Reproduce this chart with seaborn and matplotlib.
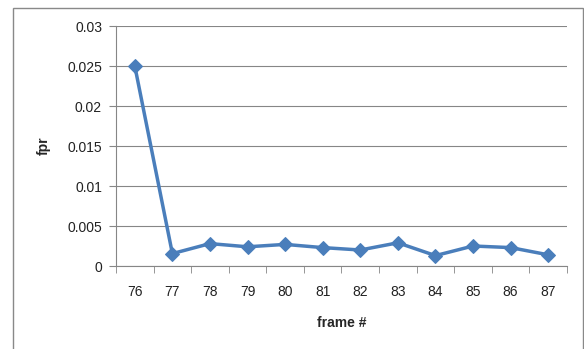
import numpy as np
import matplotlib
matplotlib.use("Agg")
import matplotlib.pyplot as plt
import seaborn as sns
from matplotlib.patches import Rectangle

frames = [76, 77, 78, 79, 80, 81, 82, 83, 84, 85, 86, 87]
fpr = [0.025, 0.00155, 0.0028, 0.0024, 0.0027, 0.0023, 0.002, 0.0029, 0.0013, 0.0025, 0.0023, 0.0014]
yticks = [0, 0.005, 0.01, 0.015, 0.02, 0.025, 0.03]
ytick_labels = ["0", "0.005", "0.01", "0.015", "0.02", "0.025", "0.03"]

sns.set_style("white")
plt.rcParams['font.family'] = ['Liberation Sans', 'DejaVu Sans']

fig = plt.figure(figsize=(5.84, 3.49), dpi=100)
ax = fig.add_axes([116 / 584, 1 - 266 / 349, (567 - 116) / 584, (266 - 26) / 349])

# outer chart border
fig.patches.append(Rectangle((13 / 584, -0.05), (583 - 13) / 584, 1 - 8 / 349 + 0.05,
                             transform=fig.transFigure, fill=False,
                             edgecolor="#898989", linewidth=1.0))

sns.lineplot(x=frames, y=fpr, ax=ax, color="#4A7EBB", linewidth=2.5,
             marker="D", markersize=7, markeredgecolor="#4A7EBB")

ax.set_xlim(75.5, 87.5)
ax.set_ylim(0, 0.03)
ax.set_yticks(yticks)
ax.set_yticklabels(ytick_labels)
ax.set_xticks(frames)
ax.set_xticklabels([str(f) for f in frames])
ax.set_xticks(np.arange(75.5, 88, 1.0), minor=True)

ax.grid(axis="y", color="#868686", linewidth=0.8)
ax.set_axisbelow(True)
for s in ["top", "right"]:
    ax.spines[s].set_visible(False)
ax.spines["left"].set_color("#868686")
ax.spines["bottom"].set_color("#868686")

ax.tick_params(axis="y", which="major", left=True, length=5, color="#868686",
               labelsize=10, pad=5, labelcolor="#222222")
ax.tick_params(axis="x", which="major", bottom=False, length=0, labelsize=10,
               pad=14, labelcolor="#222222")
ax.tick_params(axis="x", which="minor", bottom=True, length=5, color="#868686")

ax.set_ylabel("fpr", fontsize=10, fontweight="bold", labelpad=12)
ax.set_xlabel("frame #", fontsize=10, fontweight="bold", labelpad=12)

fig.savefig("out.png", dpi=100)
